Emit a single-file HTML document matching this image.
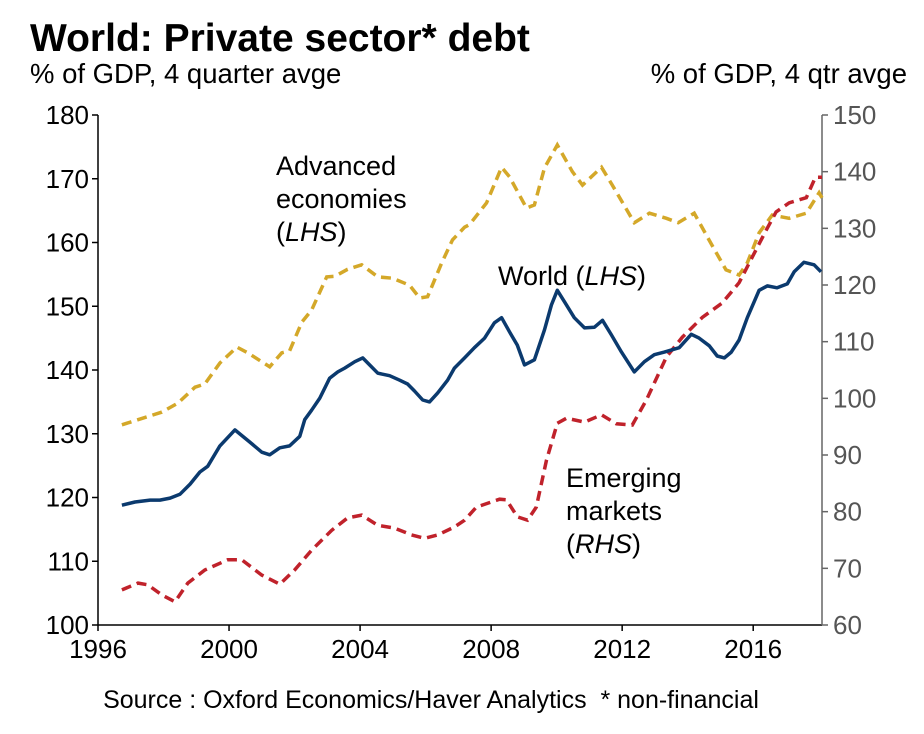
<!DOCTYPE html>
<html><head><meta charset="utf-8"><style>
body{margin:0;background:#fff;}
svg text{font-family:"Liberation Sans",Arial,sans-serif;}
</style></head><body>
<svg id="chart" width="924" height="729" viewBox="0 0 924 729" xmlns="http://www.w3.org/2000/svg">
<text x="30" y="51" font-size="39" font-weight="bold" fill="#000">World: Private sector* debt</text>
<text x="30" y="83" font-size="27.5" fill="#000">% of GDP, 4 quarter avge</text>
<text x="907" y="83" font-size="27.5" fill="#000" text-anchor="end">% of GDP, 4 qtr avge</text>
<g id="axes"></g>
<g id="series"></g>
<text x="276" y="175" font-size="27">Advanced</text>
<text x="276" y="208" font-size="27">economies</text>
<text x="276" y="241" font-size="27">(<tspan font-style="italic">LHS</tspan>)</text>
<text x="498" y="285" font-size="27">World (<tspan font-style="italic">LHS</tspan>)</text>
<text x="566" y="487" font-size="27">Emerging</text>
<text x="566" y="520" font-size="27">markets</text>
<text x="566" y="553" font-size="27">(<tspan font-style="italic">RHS</tspan>)</text>
<text x="431" y="708" font-size="25" text-anchor="middle" xml:space="preserve">Source : Oxford Economics/Haver Analytics  * non-financial</text>
</svg>
<script>
const worldYears=[1996.73,1997.13,1997.59,1997.89,1998.2,1998.5,1998.81,1999.11,1999.35,1999.72,2000.18,2000.63,2001.0,2001.24,2001.55,2001.85,2002.16,2002.31,2002.52,2002.77,2003.07,2003.32,2003.53,2003.84,2004.08,2004.29,2004.54,2004.9,2005.21,2005.45,2005.66,2005.91,2006.12,2006.37,2006.67,2006.88,2007.19,2007.49,2007.8,2008.1,2008.32,2008.56,2008.8,2009.02,2009.32,2009.63,2009.84,2010.02,2010.24,2010.54,2010.85,2011.15,2011.4,2011.67,2011.98,2012.37,2012.68,2012.98,2013.29,2013.74,2014.11,2014.35,2014.66,2014.9,2015.12,2015.33,2015.57,2015.82,2016.18,2016.43,2016.73,2017.04,2017.25,2017.55,2017.86,2018.07];
const worldValues=[118.8,119.3,119.6,119.6,119.9,120.5,122.1,124.0,124.9,128.1,130.6,128.7,127.1,126.7,127.8,128.1,129.6,132.2,133.7,135.6,138.7,139.7,140.3,141.3,141.9,140.8,139.5,139.1,138.4,137.8,136.7,135.3,135.0,136.4,138.4,140.3,141.9,143.5,145.0,147.4,148.2,146.0,143.9,140.8,141.6,146.3,150.2,152.5,150.7,148.2,146.6,146.7,147.8,145.5,142.8,139.7,141.3,142.4,142.8,143.5,145.6,145.0,143.8,142.2,141.9,142.8,144.7,148.2,152.5,153.2,152.9,153.5,155.4,156.9,156.5,155.4];
const advYears=[1996.73,1997.22,1997.95,1998.44,1998.96,1999.26,1999.72,2000.24,2000.57,2001.24,2001.61,2001.85,2002.22,2002.52,2002.98,2003.23,2003.62,2004.05,2004.54,2004.99,2005.51,2005.82,2006.06,2006.49,2006.82,2007.19,2007.34,2007.86,2008.32,2008.56,2009.08,2009.32,2009.63,2010.02,2010.48,2010.79,2011.37,2011.7,2012.37,2012.83,2013.35,2013.71,2014.2,2014.65,2015.17,2015.57,2015.82,2016.18,2016.58,2017.1,2017.62,2018.01,2018.1];
const advValues=[131.4,132.2,133.4,134.8,137.3,137.8,141.1,143.6,142.7,140.5,142.7,143.0,147.5,149.4,154.6,154.7,155.8,156.5,154.6,154.4,153.3,151.3,151.5,156.8,160.4,162.4,162.8,166.2,171.8,170.3,165.4,165.9,171.7,175.3,171.1,169.0,171.8,169.0,163.1,164.6,163.8,163.1,164.6,160.4,155.7,154.9,156.8,161.5,164.3,163.8,164.6,167.8,167.0];
const emYears=[1996.73,1997.22,1997.52,1997.95,1998.35,1998.74,1999.26,1999.96,2000.39,2001.0,2001.55,2002.0,2002.52,2003.13,2003.62,2004.05,2004.54,2005.05,2005.57,2005.97,2006.37,2006.88,2007.19,2007.55,2008.26,2008.47,2008.8,2009.11,2009.38,2009.69,2010.02,2010.3,2010.85,2011.37,2011.82,2012.31,2012.74,2013.35,2013.84,2014.45,2015.05,2015.57,2015.97,2016.4,2016.7,2017.1,2017.62,2017.9,2018.1];
const emValues=[66.2,67.4,67.1,65.3,64.1,67.4,69.7,71.5,71.5,68.8,67.2,69.7,73.2,76.7,78.9,79.4,77.6,77.1,75.9,75.3,75.9,77.3,78.5,80.8,82.2,82.1,79.1,78.5,80.8,89.1,95.6,96.5,95.8,97.1,95.5,95.3,99.7,107.3,110.8,114.3,116.8,120.4,124.9,129.7,132.9,134.5,135.4,139.0,139.0];
const xTicks=[1996,2000,2004,2008,2012,2016];
const leftTicks=[100,110,120,130,140,150,160,170,180];
const rightTicks=[60,70,80,90,100,110,120,130,140,150];

const X0=98,X1=822,Y0=625,Y1=115;
const xs=y=>X0+(y-1996)/(2018.1-1996)*(X1-X0);
const yl=v=>Y0-(v-100)/80*(Y0-Y1);
const yr=v=>Y0-(v-60)/90*(Y0-Y1);
const NS="http://www.w3.org/2000/svg";
const axes=document.getElementById('axes');
const ser=document.getElementById('series');
function mk(tag,attrs,parent){const e=document.createElementNS(NS,tag);for(const k in attrs)e.setAttribute(k,attrs[k]);parent.appendChild(e);return e;}

let a=mk('line',{x1:X0,y1:Y1,x2:X0,y2:Y0,stroke:'#000','stroke-width':1.5},axes);


a=mk('line',{x1:X0,y1:Y0,x2:X1,y2:Y0,stroke:'#000','stroke-width':1.5},axes);


a=mk('line',{x1:X1,y1:Y1,x2:X1,y2:Y0,stroke:'#666','stroke-width':1.5},axes);



leftTicks.forEach(v=>{
  const y=yl(v);
  const t=mk('line',{x1:X0-6,y1:y,x2:X0,y2:y,stroke:'#000','stroke-width':1.5},axes);
  
  
  const l=mk('text',{x:X0-9,y:y+9,'font-size':26,'text-anchor':'end',fill:'#000'},axes);
  l.textContent=v;
  
  
});
rightTicks.forEach(v=>{
  const y=yr(v);
  const t=mk('line',{x1:X1,y1:y,x2:X1+6,y2:y,stroke:'#666','stroke-width':1.5},axes);
  
  
  const l=mk('text',{x:X1+11,y:y+9,'font-size':26,fill:'#555'},axes);
  l.textContent=v;
  
  
});
xTicks.forEach(v=>{
  const x=xs(v);
  const t=mk('line',{x1:x,y1:Y0,x2:x,y2:Y0+6,stroke:'#000','stroke-width':1.5},axes);
  
  
  const l=mk('text',{x:x,y:Y0+33,'font-size':26,'text-anchor':'middle',fill:'#000'},axes);
  l.textContent=v;
  
  
});
function pathD(yrs,vals,yf){return yrs.map((y,i)=>(i?'L':'M')+xs(y).toFixed(1)+','+yf(vals[i]).toFixed(1)).join(' ');}
let p=mk('path',{d:pathD(advYears,advValues,yl),fill:'none',stroke:'#D4A829','stroke-width':3.5,'stroke-dasharray':'10 6'},ser);


p=mk('path',{d:pathD(emYears,emValues,yr),fill:'none',stroke:'#C0222B','stroke-width':3.5,'stroke-dasharray':'10 6'},ser);


p=mk('path',{d:pathD(worldYears,worldValues,yl),fill:'none',stroke:'#0B3A6E','stroke-width':3.5,'stroke-linejoin':'round'},ser);


</script>
</body></html>
